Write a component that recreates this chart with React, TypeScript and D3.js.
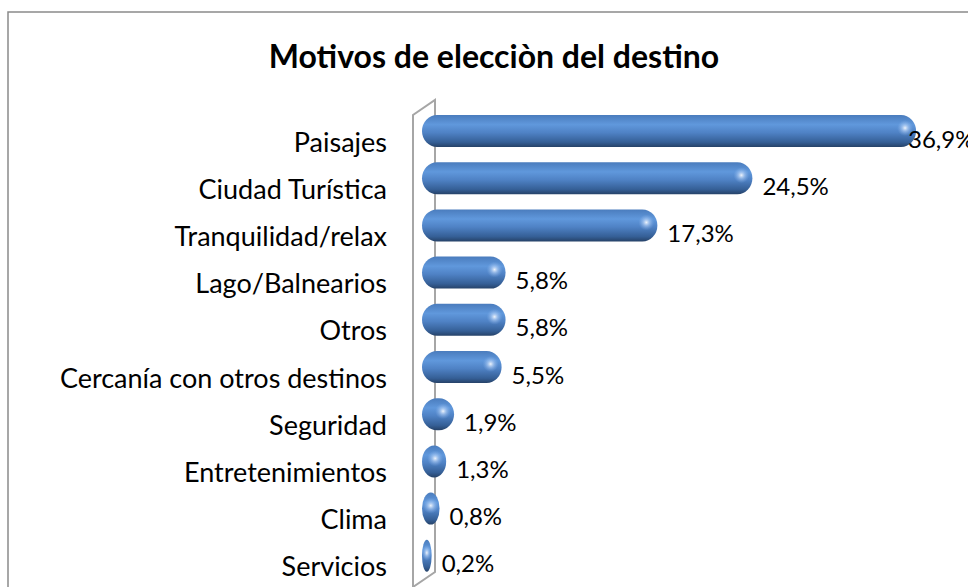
import React from 'react';
import * as d3 from 'd3';

const categories = [
  'Paisajes',
  'Ciudad Turística',
  'Tranquilidad/relax',
  'Lago/Balnearios',
  'Otros',
  'Cercanía con otros destinos',
  'Seguridad',
  'Entretenimientos',
  'Clima',
  'Servicios',
];
const values = [36.9, 24.5, 17.3, 5.8, 5.8, 5.5, 1.9, 1.3, 0.8, 0.2];
const title = 'Motivos de elecciòn del destino';

const W = 968;
const H = 587;
const FONT = 'Lato, "Open Sans", sans-serif';

export default function App() {
  // escalas
  const x = d3.scaleLinear().domain([0, 40]).range([429, 429 + 40 * 13.2]);
  const y = d3
    .scalePoint<string>()
    .domain(categories)
    .range([131, 131 + 9 * 47.2]);

  const barStart = 422;
  const barH = 32;
  const fmt = (v: number) => v.toFixed(1).replace('.', ',') + '%';

  // pared lateral 3D
  const wall = d3.path();
  wall.moveTo(413, 600);
  wall.lineTo(413, 115);
  wall.lineTo(435, 100);
  wall.lineTo(435, 572);
  wall.lineTo(413, 587);

  return (
    <svg
      width={W}
      height={H}
      style={{ position: 'absolute', left: 0, top: 0, display: 'block' }}
    >
      <defs>
        <linearGradient id="cyl" x1="0" y1="0" x2="0" y2="1">
          <stop offset="0" stopColor="#4a7cbd" />
          <stop offset="0.3" stopColor="#6098dc" />
          <stop offset="0.55" stopColor="#4f82c5" />
          <stop offset="0.85" stopColor="#355f96" />
          <stop offset="1" stopColor="#264268" />
        </linearGradient>
        <radialGradient id="spec" cx="0.5" cy="0.5" r="0.5">
          <stop offset="0" stopColor="#ffffff" stopOpacity="0.9" />
          <stop offset="0.4" stopColor="#cfe3ff" stopOpacity="0.5" />
          <stop offset="1" stopColor="#8fb8ee" stopOpacity="0" />
        </radialGradient>
      </defs>
      <rect x={0} y={0} width={W} height={H} fill="#fff" />
      <rect x={8} y={12} width={1000} height={700} fill="#fff" stroke="#8a8a8a" strokeWidth={1.5} />

      <text
        x={494}
        y={55}
        textAnchor="middle"
        dominantBaseline="central"
        fontFamily={FONT}
        fontWeight="bold"
        fontSize={32}
        fill="#000"
      >
        {title}
      </text>

      <path d={wall.toString()} fill="none" stroke="#a6a6a6" strokeWidth={2} />

      {categories.map((c, i) => {
        const cy = y(c)!;
        const end = x(values[i]);
        const w = end - barStart;
        const rx = Math.min(w / 2, 15);
        const labelX = Math.min(end + 10, 908);
        return (
          <g key={c}>
            <rect
              x={barStart}
              y={cy - barH / 2}
              width={w}
              height={barH}
              rx={rx}
              ry={barH / 2}
              fill="url(#cyl)"
            />
            <ellipse
              cx={end - Math.min(w / 2, 11)}
              cy={cy - 3}
              rx={Math.min(w / 2, 8)}
              ry={8}
              fill="url(#spec)"
            />
            <text
              x={387}
              y={cy + 10}
              textAnchor="end"
              dominantBaseline="central"
              fontFamily={FONT}
              fontSize={27}
              fill="#000"
            >
              {c}
            </text>
            <text
              x={labelX}
              y={cy + 7}
              dominantBaseline="central"
              fontFamily={FONT}
              fontSize={24}
              fill="#000"
            >
              {fmt(values[i])}
            </text>
          </g>
        );
      })}
    </svg>
  );
}
